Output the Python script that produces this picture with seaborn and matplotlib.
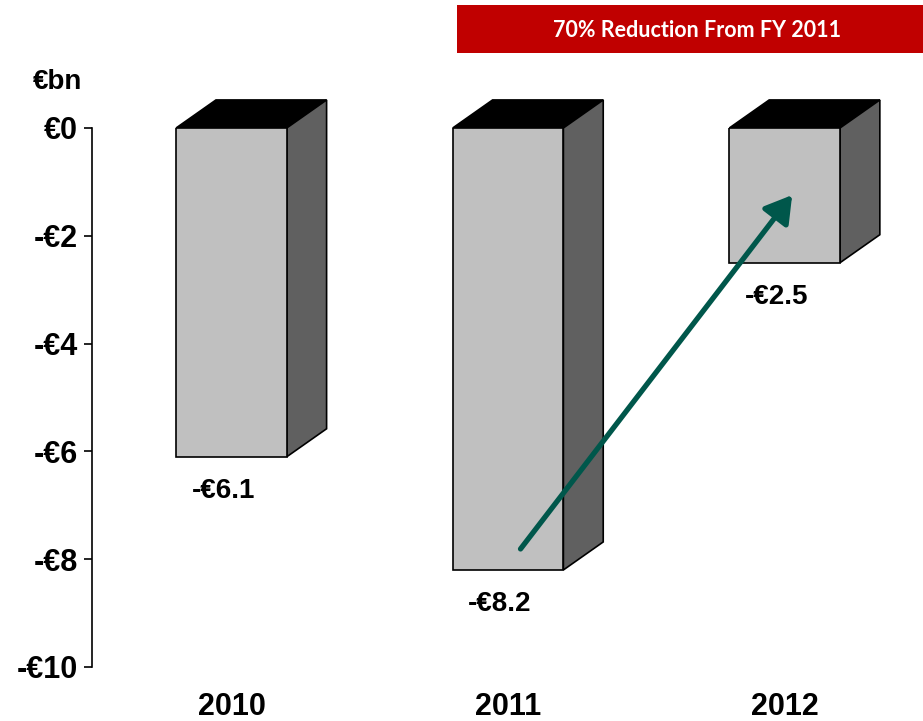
"""Resultado anual em barras 3D (seaborn + matplotlib)"""
import matplotlib
matplotlib.use("Agg")
import matplotlib.pyplot as plt
from matplotlib.patches import Polygon, Rectangle, FancyArrowPatch
import pandas as pd
import seaborn as sns

# Dados do gráfico
anos = ["2010", "2011", "2012"]
valores = [-6.1, -8.2, -2.5]
rotulos_valores = ["-€6.1", "-€8.2", "-€2.5"]
ticks_y = [0, -2, -4, -6, -8, -10]
rotulos_y = ["€0", "-€2", "-€4", "-€6", "-€8", "-€10"]
texto_banner = "70% Reduction From FY 2011"
unidade = "€bn"

sns.set_theme(style="white")
plt.rcParams["font.family"] = ["Liberation Sans", "DejaVu Sans"]
plt.rcParams["font.weight"] = "bold"
plt.rcParams["text.color"] = "black"
plt.rcParams["xtick.color"] = "black"
plt.rcParams["ytick.color"] = "black"

df = pd.DataFrame({"ano": anos, "valor": valores})

fig = plt.figure(figsize=(9.23, 7.21), dpi=100)
ax = fig.add_axes([0.0997, 0.0749, 0.9003, 0.7476])

sns.barplot(data=df, x="ano", y="valor", color="#C0C0C0", saturation=1,
            width=0.4, edgecolor="black", linewidth=1.2, ax=ax, zorder=3)

ax.set_xlim(-0.504, 2.5)
ax.set_ylim(-10, 0)

# profundidade do efeito 3D (em unidades de dados)
dx, dy = 0.144, 0.52
for barra in ax.patches:
    x0 = barra.get_x()
    w = barra.get_width()
    y_base = barra.get_y() + barra.get_height()
    y_topo = barra.get_y()
    if y_base > y_topo:
        y_base, y_topo = y_topo, y_base
    x1 = x0 + w
    topo = Polygon([(x0, y_topo), (x1, y_topo), (x1 + dx, y_topo + dy), (x0 + dx, y_topo + dy)],
                   closed=True, facecolor="black", edgecolor="black", lw=1.2,
                   clip_on=False, zorder=2)
    lado = Polygon([(x1, y_topo), (x1 + dx, y_topo + dy), (x1 + dx, y_base + dy), (x1, y_base)],
                   closed=True, facecolor="#606060", edgecolor="black", lw=1.2,
                   clip_on=False, zorder=2)
    ax.add_patch(topo)
    ax.add_patch(lado)

# rótulos dos valores abaixo das barras
for i, (v, r) in enumerate(zip(valores, rotulos_valores)):
    ax.text(i - 0.03, v - 0.64, r, ha="center", va="center", fontsize=20,
            fontweight="bold", color="black", zorder=5)

# seta de redução
seta = FancyArrowPatch((1.045, -7.81), (2.027, -1.245), arrowstyle="-|>,head_length=10,head_width=6",
                       mutation_scale=1.6, color="#00574B", lw=3.8, zorder=6,
                       shrinkA=0, shrinkB=0, clip_on=False)
ax.add_patch(seta)

# eixos
for lado_eixo in ["top", "right", "bottom"]:
    ax.spines[lado_eixo].set_visible(False)
ax.spines["left"].set_color("black")
ax.spines["left"].set_linewidth(1.2)
ax.set_yticks(ticks_y)
ax.set_yticklabels(rotulos_y, fontsize=22, fontweight="bold", color="black")
ax.tick_params(axis="y", left=True, length=6, width=1.2, color="black", pad=4)
ax.tick_params(axis="x", bottom=False, length=0, pad=18)
for t in ax.get_xticklabels():
    t.set_fontsize(22)
    t.set_fontweight("bold")
    t.set_color("black")
ax.set_xlabel("")
ax.set_ylabel("")
ax.grid(False)

# unidade
fig.text(0.062, 0.886, unidade, ha="center", va="center", fontsize=20,
         fontweight="bold", color="black")

# faixa vermelha
fig.patches.append(Rectangle((0.495, 0.9265), 0.505, 0.0666, transform=fig.transFigure,
                             facecolor="#C00000", edgecolor="none", figure=fig))
fig.text(0.755, 0.958, texto_banner, ha="center", va="center", fontsize=15.5,
         fontweight="bold", color="white", family=["Lato", "DejaVu Sans"])

fig.savefig("out.png", dpi=100)
